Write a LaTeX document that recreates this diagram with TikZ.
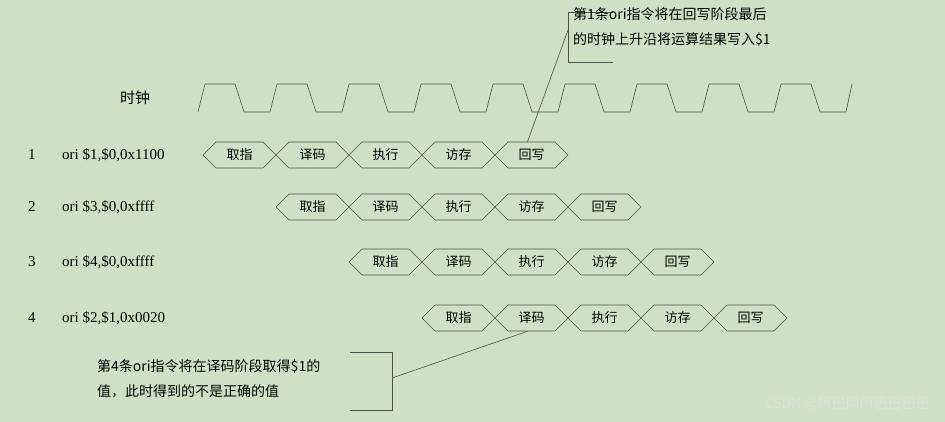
\documentclass[tikz,border=0pt]{standalone}
\usepackage{fontspec}
\setmainfont{Liberation Serif}
\newfontfamily\cjk{Noto Sans CJK SC}
\usetikzlibrary{shapes.symbols}
\definecolor{bg}{HTML}{CFE0C4}
\definecolor{ln}{HTML}{505050}
\tikzset{
  stage/.style={draw=ln, line width=0.6pt, shape=signal, signal to=east and west, signal pointer angle=90,
    minimum width=73pt, minimum height=26pt, inner sep=0pt, font=\cjk\fontsize{13}{15}\selectfont},
  lbl/.style={anchor=west, inner sep=0pt, font=\fontsize{15}{17}\selectfont},
  note/.style={anchor=north west, inner sep=0pt, align=left, font=\cjk\fontsize{14}{25}\selectfont},
  wire/.style={draw=ln, line width=0.6pt}
}
\begin{document}
\begin{tikzpicture}[x=1pt,y=-1pt]
\fill[bg] (0,0) rectangle (945,422);
\useasboundingbox (0,0) rectangle (945,422);
% clock
\node[lbl, font=\cjk\fontsize{15}{17}\selectfont] (clk) at (120,98) {时钟};
\draw[wire] (198,112) foreach \i in {0,...,8} { -- ++(7,-28) -- ++(30,0) -- ++(9,28) -- ++(26,0) } -- ++(6,-28);
% rows
\foreach \r/\y/\x/\txt in {1/155/203/{ori \$1,\$0,0x1100}, 2/207/276/{ori \$3,\$0,0xffff}, 3/262/349/{ori \$4,\$0,0xffff}, 4/318/422/{ori \$2,\$1,0x0020}}{
  \node[lbl] (n\r) at (28,\y) {\r};
  \node[lbl] (t\r) at (62,\y) {\txt};
  \foreach \s/\w [count=\k from 0] in {a/取指,b/译码,c/执行,d/访存,e/回写}{
    \node[stage] (r\r\s) at (\x+36.5+73*\k,\y) {\w};
  }
}
% callout 1
\coordinate (b1t) at (613,12);
\coordinate (b1a) at (568,12);
\coordinate (b1b) at (568,62);
\coordinate (b1c) at (613,62);
\draw[wire] (b1t) -- (b1a) -- (b1b) -- (b1c);
\node[note] (c1) at (573,7) {第1条ori指令将在回写阶段最后\\的时钟上升沿将运算结果写入\$1};
\draw[wire] (r1e.north) ++(-4,0) coordinate (p1) -- (568,30);
% callout 2
\coordinate (b2t) at (350,352);
\coordinate (b2a) at (392,352);
\coordinate (b2b) at (392,410);
\coordinate (b2c) at (350,410);
\draw[wire] (b2t) -- (b2a) -- (b2b) -- (b2c);
\node[note] (c2) at (97,359) {第4条ori指令将在译码阶段取得\$1的\\值，此时得到的不是正确的值};
\draw[wire] (392,378) -- ([xshift=-4pt]r4b.south);
% watermark
\node[anchor=east, inner sep=0pt, text=white!75!gray, font=\cjk\fontsize{14}{16}\selectfont] (wm) at (930,404) {CSDN @阿巴阿阿巴巴巴巴};
\end{tikzpicture}
\end{document}
